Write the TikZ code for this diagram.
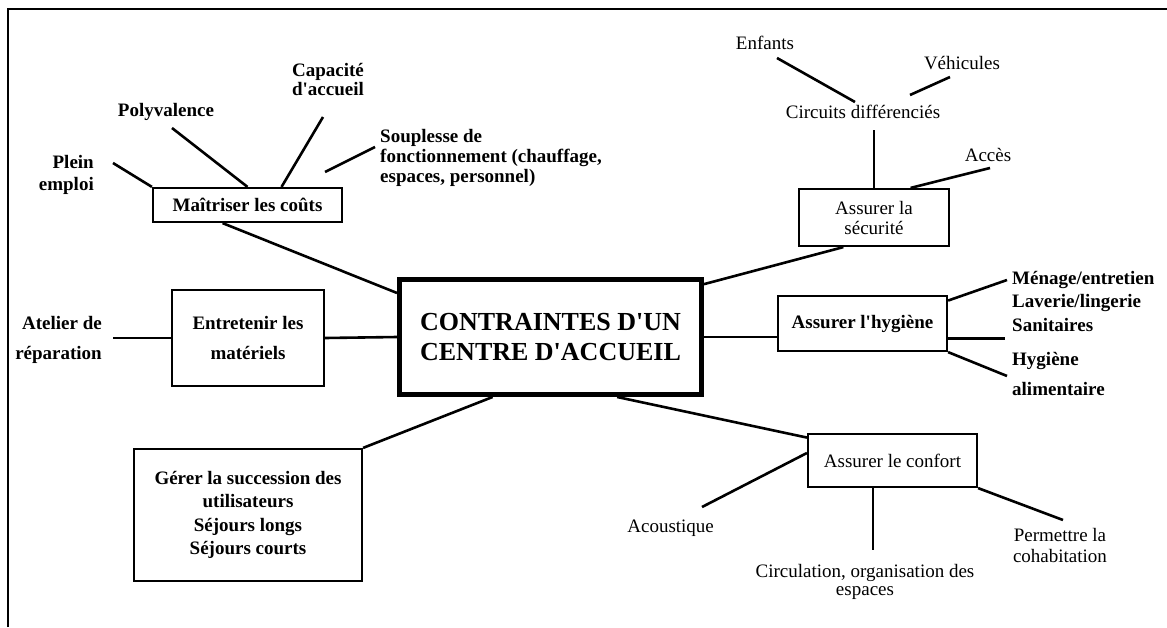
\documentclass[tikz,border=0pt]{standalone}
\usepackage{fontspec}
\setmainfont{Liberation Serif}
\newcommand{\fsz}[1]{\fontsize{19}{#1}\selectfont}
\newcommand{\apos}{\textquotesingle}

\begin{document}
\begin{tikzpicture}[x=1pt, y=-1pt,
  lien/.style={line width=2.6pt},
  boite/.style={draw, line width=2.2pt, align=center, inner sep=0pt},
  lbl/.style={align=center, inner sep=0pt}]

 \useasboundingbox (0,0) rectangle (1167,627);

 %cadre
 \draw[line width=2pt] (8,627) -- (8,9) -- (1167,9);

 %centre
 \node[boite, line width=5pt, minimum width=302, minimum height=115,
       font=\bfseries\fontsize{26}{30}\selectfont] (centre) at (550.5,337) {CONTRAINTES D\apos UN\\CENTRE D\apos ACCUEIL};

 %boites
 \node[boite, minimum width=189, minimum height=34, font=\bfseries\fsz{22}] (maitr) at (247.5,205) {Maîtriser les coûts};
 \node[boite, minimum width=150, minimum height=57, font=\fsz{20}] (secu) at (874,217.5) {Assurer la\\sécurité};
 \node[boite, minimum width=152, minimum height=96, font=\bfseries\fsz{30}] (entr) at (248,338) {Entretenir les\\matériels};
 \node[boite, minimum width=228, minimum height=132, font=\bfseries\fsz{23.5}] (gerer) at (248,515) {Gérer la succession des\\utilisateurs\\Séjours longs\\Séjours courts};
 \node[boite, minimum width=169, minimum height=55, font=\bfseries\fsz{22}] (hyg) at (862.5,323.5) {Assurer l\apos hygiène};
 \node[boite, minimum width=169, minimum height=53, font=\fsz{22}] (conf) at (892.5,460.5) {Assurer le confort};

 %textes
 \node[lbl, align=right, anchor=east, font=\bfseries\fsz{22}] (plein) at (94,175) {Plein\\emploi};
 \node[lbl, font=\bfseries\fsz{22}] (poly) at (166,112) {Polyvalence};
 \node[lbl, font=\bfseries\fsz{19}] (capa) at (328,80) {Capacité\\d\apos accueil};
 \node[lbl, align=left, anchor=west, font=\bfseries\fsz{20}] (soup) at (380,158) {Souplesse de\\fonctionnement (chauffage,\\espaces, personnel)};
 \node[lbl, align=right, anchor=east, font=\bfseries\fsz{30}] (atel) at (102,340) {Atelier de\\réparation};
 \node[lbl, align=left, anchor=north west, font=\bfseries\fsz{23.5}] (menage) at (1012,271) {Ménage/entretien\\Laverie/lingerie\\Sanitaires};
 \node[lbl, align=left, anchor=west, font=\bfseries\fsz{30}] (hygal) at (1012,374) {Hygiène\\alimentaire};
 \node[lbl, font=\fsz{18}] (circu) at (865,582) {Circulation, organisation des\\espaces};
 \node[lbl, font=\fsz{21}] (perm) at (1060,545) {Permettre la\\cohabitation};

    \foreach \x/\y/\name/\txt in { 765/43/enf/Enfants, 962/63/veh/Véhicules, 863/112/circ/Circuits différenciés,
                                   988/155/acc/Accès, 673/528/acou/Acoustique }{
         \node[lbl, font=\fsz{22}] (\name) at (\x,\y) {\txt};
    }

 %bouts libres
 \coordinate (plein-l) at (113,163);
 \coordinate (poly-l) at (172,128);
 \coordinate (capa-l) at (323,117);
 \coordinate (soup-a) at (375,147);
 \coordinate (soup-b) at (325,172);
 \coordinate (enf-l) at (777,58);
 \coordinate (circ-a) at (855,102);
 \coordinate (veh-l) at (950,77);
 \coordinate (circ-b) at (910,95);
 \coordinate (acc-l) at (990,168);
 \coordinate (menage-l) at (1007,280);
 \coordinate (hygal-l) at (1007,376);
 \coordinate (acou-l) at (702,507);
 \coordinate (perm-l) at (1063,520);

 %liens
 \draw[lien] (plein-l) -- (maitr.north west);
 \draw[lien] (poly-l) -- (maitr.north);
 \draw[lien] (capa-l) -- (maitr.28);
 \draw[lien] (soup-a) -- (soup-b);
 \draw[lien] (maitr.216) -- (centre.164);
 \draw[lien] (entr.west) -- ++(-58,0);
 \draw[lien] (entr.east) -- (centre.west);
 \draw[lien] (centre.226) -- (gerer.north east);

 \draw[lien] (secu.224) -- (centre.19);
 \draw[lien] (secu.north) -- ++(0,-58);
 \draw[lien] (enf-l) -- (circ-a);
 \draw[lien] (veh-l) -- (circ-b);
 \draw[lien] (acc-l) -- (secu.39);

 \draw[lien] (centre.east) -- (centre.east -| hyg.west);
 \draw[lien] (hyg.15) -- (menage-l);
 \draw[lien] (hyg.-10) -- ++(57,0);
 \draw[lien] (hyg.south east) -- (hygal-l);

 \draw[lien] (centre.-42) -- (conf.165);
 \draw[lien] (conf.175) -- (acou-l);
 \draw[lien] (conf.235) -- ++(0,62);
 \draw[lien] (conf.south east) -- (perm-l);

\end{tikzpicture}
\end{document}
